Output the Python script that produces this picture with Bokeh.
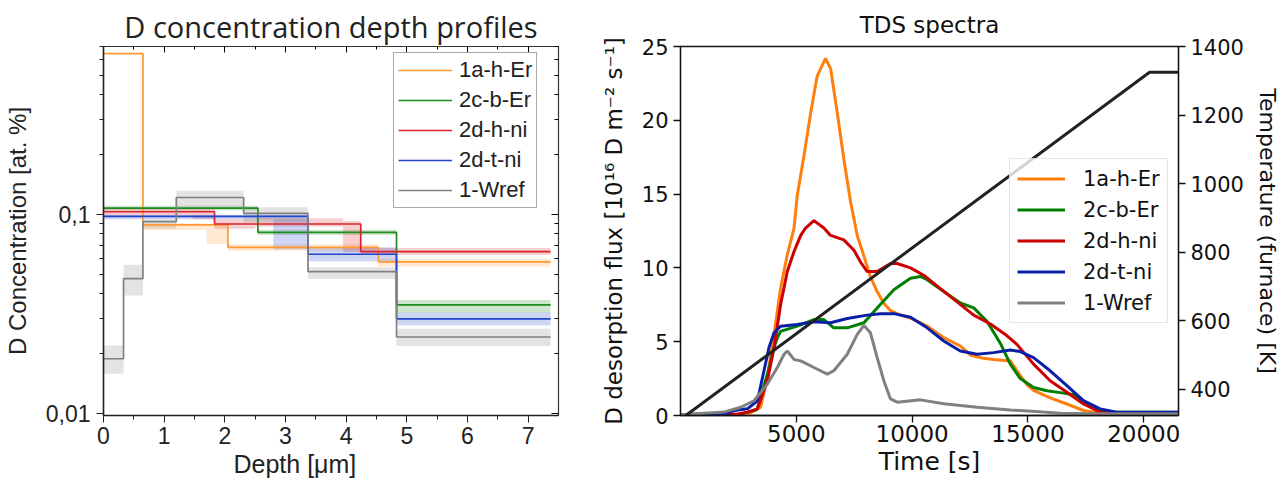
from bokeh.plotting import figure
from bokeh.models import (Range1d, LinearAxis, LogAxis, FixedTicker,
                          CustomJSTickFormatter, Legend, LegendItem, Title)
from bokeh.layouts import row
from bokeh.embed import file_html
from bokeh.resources import INLINE

# ---------------- Left panel: D concentration depth profiles ----------------
names = ["1a-h-Er", "2c-b-Er", "2d-h-ni", "2d-t-ni", "1-Wref"]

er1a_depth = [0, 0.65, 2.05, 4.53, 7.37]
er1a_conc = [0.644, 0.089, 0.0686, 0.058]
er1a_band_x0 = [0.65, 1.7, 2.05, 4.53]
er1a_band_x1 = [1.7, 2.05, 4.53, 7.37]
er1a_band_lo = [0.0838, 0.0713, 0.066, 0.0549]
er1a_band_hi = [0.0905, 0.0898, 0.071, 0.0600]

er2c_depth = [0, 2.545, 4.83, 7.37]
er2c_conc = [0.108, 0.0815, 0.0352]
er2c_band_x0 = [0, 2.545, 4.83]
er2c_band_x1 = [2.545, 4.83, 7.37]
er2c_band_lo = [0.105, 0.079, 0.0323]
er2c_band_hi = [0.111, 0.084, 0.0373]

ni2dh_depth = [0, 1.83, 4.24, 7.37]
ni2dh_conc = [0.1035, 0.0898, 0.0653]
ni2dh_band_x0 = [0, 1.47, 1.83, 2.5, 3.95, 4.24]
ni2dh_band_x1 = [1.47, 1.83, 2.5, 3.95, 4.24, 7.37]
ni2dh_band_lo = [0.099, 0.095, 0.085, 0.087, 0.0647, 0.0628]
ni2dh_band_hi = [0.107, 0.107, 0.095, 0.096, 0.093, 0.068]

ni2dt_depth = [0, 3.37, 4.83, 7.37]
ni2dt_conc = [0.098, 0.0633, 0.030]
ni2dt_band_x0 = [0, 2.8, 3.37, 4.83]
ni2dt_band_x1 = [2.8, 3.37, 4.83, 7.37]
ni2dt_band_lo = [0.095, 0.067, 0.0583, 0.0278]
ni2dt_band_hi = [0.100, 0.100, 0.0686, 0.0324]

wref_depth = [0, 0.33, 0.65, 1.2, 2.31, 3.37, 4.83, 7.37]
wref_conc = [0.0189, 0.0477, 0.0923, 0.122, 0.1015, 0.0518, 0.0243]
wref_band_x0 = [0, 0.33, 0.65, 1.2, 2.31, 3.37, 4.83]
wref_band_x1 = [0.33, 0.65, 1.2, 2.31, 3.37, 4.83, 7.37]
wref_band_lo = [0.0159, 0.0393, 0.085, 0.109, 0.0915, 0.0477, 0.0219]
wref_band_hi = [0.022, 0.0561, 0.095, 0.132, 0.109, 0.0545, 0.0267]

depth_ticks = [0, 1, 2, 3, 4, 5, 6, 7]
depth_minor = [0.5, 1.5, 2.5, 3.5, 4.5, 5.5, 6.5]
conc_ticks = [0.01, 0.1]
conc_minor = [0.02, 0.03, 0.04, 0.05, 0.06, 0.07, 0.08, 0.09,
              0.2, 0.3, 0.4, 0.5, 0.6, 0.7]

left_colors = ["#ff9933", "#1e8c1e", "#d9232d", "#2244cc", "#808080"]

# ---------------- Right panel: TDS spectra ----------------
t_1a = [0, 2000, 3000, 3460, 3750, 4040, 4320, 4610, 4900, 5040, 5330, 5620, 5900,
        6260, 6480, 6770, 7050, 7340, 7630, 7920, 8200, 8490, 8780, 9070, 9500, 9930,
        10650, 11365, 12080, 12515, 13000, 13520, 14240, 14668, 14955, 15243, 15960,
        16680, 17400, 17830, 19000, 21500]
f_1a = [0.05, 0.05, 0.15, 0.56, 2.6, 5.5, 8.6, 10.9, 12.67, 14.9, 17.6, 20.5, 23.0,
        24.2, 23.5, 20.5, 17.4, 14.5, 12.2, 10.8, 9.4, 8.4, 7.6, 7.1, 6.8, 6.6,
        6.06, 5.27, 4.71, 4.1, 3.9, 3.8, 3.7, 2.7, 2.1, 1.7, 1.2,
        0.78, 0.34, 0.22, 0.2, 0.2]

t_2c = [0, 2500, 3300, 3750, 4040, 4180, 4320, 5040, 5760, 6190, 6620, 7200, 7920,
        8490, 9210, 9930, 10358, 10650, 11365, 12080, 12660, 13230, 13806, 14240,
        14670, 15245, 15820, 16390, 17000, 17400, 18117, 18550, 21500]
f_2c = [0.05, 0.05, 0.4, 2.8, 4.6, 5.27, 5.7, 6.06, 6.5, 6.5, 5.94, 5.94, 6.28,
        7.29, 8.52, 9.3, 9.42, 9.2, 8.4, 7.62, 7.29, 6.39, 4.9, 3.48,
        2.5, 1.9, 1.68, 1.55, 1.4, 0.9, 0.34, 0.22, 0.22]

t_2dh = [0, 2500, 2890, 3320, 3750, 4040, 4320, 4610, 4900, 5190, 5400, 5760, 6190,
         6480, 7050, 7490, 7770, 8060, 8490, 9070, 9350, 9930, 10500, 11220, 11940,
         12660, 13380, 14100, 14524, 15243, 15960, 16680, 17400, 18117, 19000, 21500]
f_2dh = [0.05, 0.1, 0.23, 0.45, 2.35, 4.6, 7.5, 9.75, 11.1, 12.2, 12.7, 13.2, 12.7,
         12.2, 11.9, 11.2, 10.4, 9.75, 9.75, 10.3, 10.3, 10.0, 9.5, 8.6, 7.7,
         6.8, 6.2, 5.4, 4.82, 3.48, 2.35, 1.57, 0.78, 0.22, 0.2, 0.2]

t_2dt = [0, 2025, 2310, 2890, 3320, 3600, 3820, 4040, 4320, 5040, 5760, 6480, 7200,
         8060, 8640, 9210, 9930, 10650, 11365, 12080, 12800, 13520, 14240, 14668,
         15243, 15960, 16680, 17400, 18117, 18835, 21500]
f_2dt = [0.05, 0.15, 0.34, 0.45, 1.0, 3.0, 4.6, 5.6, 6.05, 6.17, 6.35, 6.28, 6.57,
         6.8, 6.9, 6.9, 6.66, 5.94, 5.05, 4.37, 4.15, 4.26, 4.44, 4.33,
         3.92, 3.03, 2.02, 1.01, 0.45, 0.22, 0.22]

t_w = [0, 1880, 2600, 3175, 3750, 4180, 4470, 4610, 4900, 5190, 5760, 6340, 6620,
       7200, 7630, 7920, 8200, 8490, 8778, 9065, 9353, 10358, 11365, 12800, 14240,
       15675, 16390, 18000, 21500]
f_w = [0.05, 0.23, 0.56, 1.0, 2.13, 3.25, 4.15, 4.37, 3.8, 3.7, 3.25, 2.8, 3.03,
       4.15, 5.5, 6.1, 5.6, 3.93, 2.36, 1.12, 0.9, 1.06, 0.79, 0.56, 0.38,
       0.23, 0.16, 0.12, 0.12]

temp_time = [230, 20250, 21500]
temp_K = [323, 1325, 1325]

flux_ticks = [0, 5, 10, 15, 20, 25]
time_ticks = [5000, 10000, 15000, 20000]
temp_ticks = [400, 600, 800, 1000, 1200, 1400]

right_colors = ["#ff7f0e", "#008000", "#cc0000", "#0a1fa8", "#808080"]
temp_color = "#222222"

# ============================ LEFT FIGURE ============================
LF = "Liberation Sans"
p1 = figure(width=575, height=499, y_axis_type="log",
            x_range=Range1d(0, 7.5), y_range=Range1d(0.0098, 0.70),
            output_backend="svg", toolbar_location=None,
            min_border_left=102, min_border_right=17,
            min_border_top=45, min_border_bottom=84)
p1.title.text = "D concentration depth profiles"
p1.title.text_font = "Open Sans"
p1.title.text_font_size = "29px"
p1.title.text_font_style = "normal"
p1.title.align = "center"
p1.title.text_color = "#222222"
p1.title.standoff = 2
p1.xgrid.visible = False
p1.ygrid.visible = False
p1.outline_line_color = "#333333"
p1.outline_line_width = 1.2

bands = [
    (er1a_band_x0, er1a_band_x1, er1a_band_lo, er1a_band_hi),
    (er2c_band_x0, er2c_band_x1, er2c_band_lo, er2c_band_hi),
    (ni2dh_band_x0, ni2dh_band_x1, ni2dh_band_lo, ni2dh_band_hi),
    (ni2dt_band_x0, ni2dt_band_x1, ni2dt_band_lo, ni2dt_band_hi),
    (wref_band_x0, wref_band_x1, wref_band_lo, wref_band_hi),
]
steps = [
    (er1a_depth, er1a_conc), (er2c_depth, er2c_conc), (ni2dh_depth, ni2dh_conc),
    (ni2dt_depth, ni2dt_conc), (wref_depth, wref_conc),
]
for (x0, x1, lo, hi), c in zip(bands, left_colors):
    p1.quad(left=x0, right=x1, bottom=lo, top=hi, fill_color=c,
            fill_alpha=0.22, line_color=None)
left_items = []
for (d, v), c, n in zip(steps, left_colors, names):
    r = p1.step(x=d, y=v + [v[-1]], mode="after", line_color=c, line_width=1.7)
    left_items.append(LegendItem(label=n, renderers=[r]))

xa = p1.xaxis[0]
xa.ticker = FixedTicker(ticks=depth_ticks, minor_ticks=depth_minor)
ya = p1.yaxis[0]
ya.ticker = FixedTicker(ticks=conc_ticks, minor_ticks=conc_minor)
ya.formatter = CustomJSTickFormatter(code="return tick.toString().replace('.', ',');")
ya.axis_label = "D Concentration [at. %]"
for ax in (xa, ya):
    ax.axis_label_text_font = LF
    ax.axis_label_text_font_size = "24px"
    ax.axis_label_text_font_style = "normal"
    ax.axis_label_text_color = "#222222"
    ax.major_label_text_font = LF
    ax.major_label_text_font_size = "23px"
    ax.major_label_text_color = "#222222"
    ax.axis_line_color = "#222222"
    ax.axis_line_width = 1.5
    ax.major_tick_line_color = "#222222"
    ax.minor_tick_line_color = "#222222"
    ax.major_tick_in = 0
    ax.major_tick_out = 7
    ax.minor_tick_in = 0
    ax.minor_tick_out = 4
xa.major_label_standoff = 4
ya.axis_label_standoff = 12
ya.major_label_standoff = 6

# x-axis title sits left of centre in the original (Origin layout)
p1.add_layout(Title(text="Depth [\u03bcm]", align="left", offset=130,
                    text_font=LF, text_font_size="25px",
                    text_font_style="normal", text_color="#222222",
                    standoff=2), "below")

empty = CustomJSTickFormatter(code="return '';")
top_ax = LinearAxis(ticker=FixedTicker(ticks=depth_ticks, minor_ticks=depth_minor),
                    formatter=empty, major_tick_in=6, major_tick_out=0,
                    minor_tick_in=3, minor_tick_out=0, axis_line_color="#333333",
                    major_label_standoff=0)
p1.add_layout(top_ax, "above")
right_ax = LogAxis(ticker=FixedTicker(ticks=conc_ticks, minor_ticks=conc_minor),
                   formatter=empty, major_tick_in=7, major_tick_out=0,
                   minor_tick_in=4, minor_tick_out=0, axis_line_color="#333333",
                   major_label_standoff=0)
p1.add_layout(right_ax, "right")

leg1 = Legend(items=left_items, location=(290, 207),
              label_text_font=LF, label_text_font_size="22px",
              label_text_color="#222222",
              glyph_width=54, glyph_height=22, label_height=22,
              label_standoff=7, spacing=4, padding=4, margin=0,
              border_line_color="#555555", border_line_width=1,
              background_fill_alpha=1.0)
p1.add_layout(leg1)

# ============================ RIGHT FIGURE ============================
RF = "DejaVu Sans"
p2 = figure(width=707, height=499,
            x_range=Range1d(0, 21500), y_range=Range1d(0, 25),
            output_backend="svg", toolbar_location=None,
            min_border_left=105, min_border_right=103,
            min_border_top=46, min_border_bottom=81)
p2.extra_y_ranges = {"temp": Range1d(323, 1400)}
p2.title.text = "TDS spectra"
p2.title.text_font = RF
p2.title.text_font_size = "23px"
p2.title.text_font_style = "normal"
p2.title.align = "center"
p2.title.text_color = "#111111"
p2.title.vertical_align = "top"
p2.title.standoff = 14
p2.xgrid.visible = False
p2.ygrid.visible = False
p2.outline_line_color = "#111111"
p2.outline_line_width = 1.3

series = [(t_1a, f_1a), (t_2c, f_2c), (t_2dh, f_2dh), (t_2dt, f_2dt), (t_w, f_w)]
right_items = []
for (t, f), c, n in zip(series, right_colors, names):
    r = p2.line(t, f, line_color=c, line_width=3)
    right_items.append(LegendItem(label=n, renderers=[r]))
p2.line(temp_time, temp_K, line_color=temp_color, line_width=3, y_range_name="temp")

tax = LinearAxis(y_range_name="temp", ticker=FixedTicker(ticks=temp_ticks),
                 axis_label="Temperature (furnace) [K]")
p2.add_layout(tax, "right")

bx = p2.xaxis[0]
bx.ticker = FixedTicker(ticks=time_ticks)
bx.axis_label = "Time [s]"
ly = p2.yaxis[0]
ly.ticker = FixedTicker(ticks=flux_ticks)
ly.axis_label = "D desorption flux [10\u00b9\u2076 D m\u207b\u00b2 s\u207b\u00b9]"
for ax in (bx, ly, tax):
    ax.axis_label_text_font = RF
    ax.axis_label_text_font_style = "normal"
    ax.axis_label_text_color = "#111111"
    ax.major_label_text_font = RF
    ax.major_label_text_color = "#111111"
    ax.axis_line_color = "#111111"
    ax.axis_line_width = 1.3
    ax.major_tick_line_color = "#111111"
    ax.major_tick_line_width = 1.3
    ax.major_tick_in = 0
    ax.major_tick_out = 7
    ax.minor_tick_line_color = None
bx.axis_label_text_font_size = "25px"
bx.major_label_text_font_size = "23px"
bx.axis_label_standoff = 2
bx.major_label_standoff = 2
ly.axis_label_text_font_size = "23px"
ly.major_label_text_font_size = "21px"
ly.axis_label_standoff = 12
tax.axis_label_text_font_size = "22px"
tax.major_label_text_font_size = "21px"
tax.axis_label_standoff = 8

leg2 = Legend(items=right_items, location=(329, 92),
              label_text_font=RF, label_text_font_size="21px",
              label_text_color="#111111",
              glyph_width=48, glyph_height=25, label_height=25,
              label_standoff=18, spacing=6, padding=7, margin=0,
              border_line_color="#cccccc", border_line_width=1,
              background_fill_alpha=0.8)
p2.add_layout(leg2)

layout = row(p1, p2)
open("out.html", "w").write(file_html(layout, INLINE))
